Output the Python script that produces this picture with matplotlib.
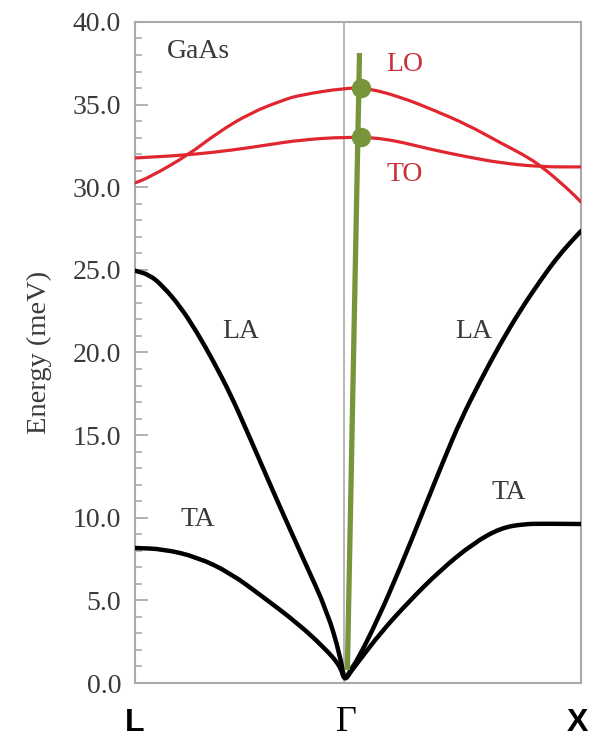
import matplotlib
matplotlib.use("Agg")
import matplotlib.pyplot as plt
from matplotlib.path import Path
from matplotlib.patches import PathPatch
from matplotlib.ticker import MultipleLocator, FormatStrFormatter
import matplotlib.transforms as mtransforms

# ---- data (q: L=0, Gamma=1, X=2.13) ----
la_q = [0.0, 0.07, 0.134, 0.215, 0.297, 0.373, 0.455, 0.536, 0.608, 0.694, 0.804, 0.919, 0.98, 1.0,
        1.03, 1.062, 1.158, 1.268, 1.378, 1.474, 1.555, 1.651, 1.746, 1.842, 1.938, 2.019, 2.096, 2.13]
la_e = [24.95, 24.7, 24.0, 22.8, 21.2, 19.5, 17.5, 15.2, 13.1, 10.6, 7.5, 4.3, 1.63, 0.1,
        0.82, 1.39, 3.81, 7.02, 10.47, 13.49, 15.92, 18.34, 20.57, 22.6, 24.4, 25.8, 26.9, 27.35]
ta_q = [0.0, 0.134, 0.297, 0.455, 0.612, 0.775, 0.900, 0.98, 1.0,
        1.03, 1.062, 1.172, 1.301, 1.459, 1.617, 1.746, 1.856, 1.95, 2.13]
ta_e = [8.17, 8.11, 7.62, 6.66, 5.20, 3.63, 2.18, 1.05, 0.1,
        0.68, 1.21, 3.03, 4.84, 6.84, 8.47, 9.38, 9.62, 9.64, 9.62]
lo_q = [0.0, 0.072, 0.254, 0.392, 0.550, 0.708, 0.789, 1.0, 1.110, 1.268, 1.426, 1.589, 1.746, 1.85, 1.938, 2.067, 2.13]
lo_e = [30.26, 30.62, 31.95, 33.28, 34.49, 35.28, 35.58, 36.0, 36.0, 35.46, 34.67, 33.77, 32.68, 32.0, 31.3, 29.9, 29.1]
to_q = [0.0, 0.254, 0.469, 0.632, 0.789, 1.0, 1.188, 1.426, 1.589, 1.746, 1.938, 2.13]
to_e = [31.77, 31.95, 32.25, 32.56, 32.86, 33.04, 32.98, 32.25, 31.83, 31.47, 31.23, 31.23]
green_q = [1.014, 1.072]
green_e = [0.79, 38.12]
dot_q = [1.081, 1.077]
dot_e = [36.0, 33.04]
sym_pos = [0.0, 1.0, 2.13]
sym_labels = ["L", "Γ", "X"]
yticks = [0, 5, 10, 15, 20, 25, 30, 35, 40]
branch_labels = ["GaAs", "LO", "TO", "LA", "LA", "TA", "TA"]
branch_label_q = [0.301, 1.287, 1.287, 0.507, 1.617, 0.301, 1.785]
branch_label_e = [38.2, 37.4, 30.8, 21.24, 21.3, 9.92, 11.5]

RED = "#e0262f"
LABRED = "#c8303c"
GREEN = "#77963b"
GRAY = "#aaaaaa"
TXT = "#3a3a3a"


def smooth_branch(ax, qs, es, color, lw, z=3):
    """Draw a branch as a smooth quadratic-Bezier path whose control points are the read values."""
    pts = list(zip(qs, es))
    verts = [pts[0]]
    codes = [Path.MOVETO]
    verts.append(((pts[0][0] + pts[1][0]) / 2, (pts[0][1] + pts[1][1]) / 2))
    codes.append(Path.LINETO)
    for i in range(1, len(pts) - 1):
        nxt = pts[i + 1]
        mid = ((pts[i][0] + nxt[0]) / 2, (pts[i][1] + nxt[1]) / 2)
        verts += [pts[i], mid]
        codes += [Path.CURVE3, Path.CURVE3]
    verts.append(pts[-1])
    codes.append(Path.LINETO)
    patch = PathPatch(Path(verts, codes), facecolor="none", edgecolor=color, lw=lw,
                      capstyle="round", joinstyle="round", zorder=z)
    ax.add_patch(patch)


fig = plt.figure(figsize=(5.96, 7.42), dpi=100)
ax = fig.add_axes([0.2265, 0.0795, 0.7485, 0.8909])

smooth_branch(ax, la_q, la_e, "black", 3.2)
smooth_branch(ax, ta_q, ta_e, "black", 3.2)
smooth_branch(ax, lo_q, lo_e, RED, 2.3)
smooth_branch(ax, to_q, to_e, RED, 2.3)
ax.axvline(1.0, color=GRAY, lw=1.2, zorder=0)
ax.plot(green_q, green_e, color=GREEN, lw=3.8, solid_capstyle="butt", zorder=5, clip_on=False)
ax.plot(dot_q, dot_e, "o", color=GREEN, ms=13, zorder=6, clip_on=False)

ax.set_xlim(sym_pos[0], sym_pos[-1])
ax.set_ylim(0, 40)

for s in ax.spines.values():
    s.set_color(GRAY)
    s.set_linewidth(1.5)

ax.yaxis.set_minor_locator(MultipleLocator(1))
ax.set_yticks(yticks)
ax.yaxis.set_major_formatter(FormatStrFormatter("%.1f"))
ax.tick_params(axis="y", which="major", direction="in", length=9, width=1.3, color=GRAY,
               labelsize=20, labelcolor=TXT, pad=10)
ax.tick_params(axis="y", which="minor", direction="in", length=5, width=1.2, color=GRAY)
for lbl in ax.get_yticklabels():
    lbl.set_fontfamily("Liberation Serif")

ax.set_xticks([])
trans = mtransforms.blended_transform_factory(ax.transData, ax.transAxes)
for pos, lab in zip(sym_pos, sym_labels):
    if lab == "Γ":
        ax.text(pos, -0.0726, lab, transform=mtransforms.offset_copy(trans, fig=fig, x=1.5, units="points"),
                ha="center", va="baseline", family="Liberation Serif", fontsize=26, color="black")
    else:
        dx = -3.0 if lab == "X" else 0.0
        ax.text(pos, -0.0726, lab, transform=mtransforms.offset_copy(trans, fig=fig, x=dx, units="points"),
                ha="center", va="baseline", family="Liberation Sans", fontweight="bold",
                fontsize=23, color="black")

ax.set_ylabel("Energy (meV)", family="Liberation Serif", fontsize=20.5, color=TXT, labelpad=15)

for lab, q, e in zip(branch_labels, branch_label_q, branch_label_e):
    col = LABRED if lab in ("LO", "TO") else TXT
    ax.text(q, e, lab, family="Liberation Serif", fontsize=20, color=col, ha="center", va="center")

fig.savefig("out.png", dpi=100)
